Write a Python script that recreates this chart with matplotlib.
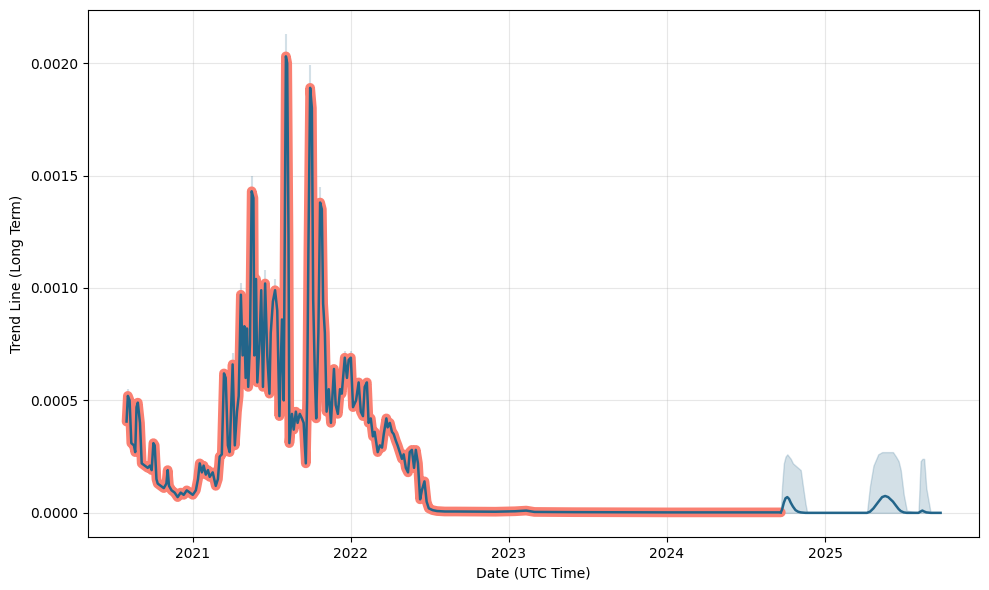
import matplotlib
matplotlib.use("Agg")
import matplotlib.pyplot as plt
import matplotlib.dates as mdates
import pandas as pd

# ---- historical trend line ----
hist_dates = [
    "2020-08-01", "2020-08-04", "2020-08-08", "2020-08-12", "2020-08-18", "2020-08-21",
    "2020-08-24", "2020-08-27", "2020-09-01", "2020-09-05", "2020-09-12", "2020-09-19",
    "2020-09-24", "2020-09-28", "2020-10-02", "2020-10-05", "2020-10-09", "2020-10-12",
    "2020-10-19", "2020-10-26", "2020-11-01", "2020-11-04", "2020-11-07", "2020-11-13",
    "2020-11-20", "2020-11-27", "2020-12-04", "2020-12-11", "2020-12-18", "2020-12-25",
    "2021-01-01", "2021-01-08", "2021-01-13", "2021-01-17", "2021-01-22", "2021-01-26",
    "2021-01-31", "2021-02-05", "2021-02-09", "2021-02-16", "2021-02-23", "2021-02-28",
    "2021-03-04", "2021-03-09", "2021-03-14", "2021-03-18", "2021-03-23", "2021-03-27",
    "2021-04-03", "2021-04-08", "2021-04-13", "2021-04-17", "2021-04-22", "2021-04-26",
    "2021-04-30", "2021-05-03", "2021-05-06", "2021-05-09", "2021-05-13", "2021-05-17",
    "2021-05-21", "2021-05-23", "2021-05-27", "2021-05-30", "2021-06-04", "2021-06-08",
    "2021-06-12", "2021-06-17", "2021-06-22", "2021-06-27", "2021-06-30", "2021-07-05",
    "2021-07-10", "2021-07-15", "2021-07-20", "2021-07-26", "2021-07-30", "2021-08-04",
    "2021-08-07", "2021-08-10", "2021-08-12", "2021-08-18", "2021-08-22", "2021-08-27",
    "2021-08-31", "2021-09-05", "2021-09-10", "2021-09-14", "2021-09-19", "2021-09-22",
    "2021-09-25", "2021-09-29", "2021-10-03", "2021-10-06", "2021-10-10", "2021-10-13",
    "2021-10-18", "2021-10-22", "2021-10-26", "2021-10-29", "2021-11-02", "2021-11-06",
    "2021-11-11", "2021-11-16", "2021-11-23", "2021-11-27", "2021-12-02", "2021-12-07",
    "2021-12-11", "2021-12-18", "2021-12-23", "2021-12-27", "2022-01-01", "2022-01-06",
    "2022-01-13", "2022-01-19", "2022-01-24", "2022-01-29", "2022-02-02", "2022-02-07",
    "2022-02-11", "2022-02-16", "2022-02-21", "2022-02-25", "2022-03-04", "2022-03-09",
    "2022-03-14", "2022-03-18", "2022-03-24", "2022-03-27", "2022-04-01", "2022-04-06",
    "2022-04-10", "2022-04-15", "2022-04-19", "2022-04-24", "2022-04-29", "2022-05-03",
    "2022-05-08", "2022-05-13", "2022-05-17", "2022-05-22", "2022-05-27", "2022-05-31",
    "2022-06-05", "2022-06-10", "2022-06-14", "2022-06-20", "2022-06-25", "2022-06-30",
    "2022-07-09", "2022-07-19", "2022-08-06", "2022-09-01", "2022-12-01", "2023-01-15",
    "2023-02-10", "2023-03-01", "2023-06-01", "2024-01-01", "2024-09-20",
]
hist_values = [
    0.000406, 0.00052, 0.00050, 0.00031, 0.00030, 0.00027,
    0.00047, 0.00049, 0.00040, 0.00022, 0.00021, 0.00020,
    0.00021, 0.00019, 0.00031, 0.00030, 0.00015, 0.00013,
    0.00012, 0.00011, 0.00013, 0.00019, 0.00012, 0.00010,
    0.00009, 0.00007, 0.00009, 0.00008, 0.00010, 0.00009,
    0.00008, 0.00010, 0.00015, 0.00022, 0.00018, 0.00021,
    0.00017, 0.00019, 0.00016, 0.00018, 0.00012, 0.00015,
    0.00025, 0.00026, 0.00062, 0.00060, 0.00030, 0.00027,
    0.00066, 0.00030, 0.00045, 0.00052, 0.00097, 0.00070,
    0.00083, 0.00060, 0.00082, 0.00056, 0.00075, 0.00143,
    0.00140, 0.00070, 0.00104, 0.00058, 0.00075, 0.00099,
    0.00056, 0.00102, 0.00070, 0.00053, 0.00080, 0.00094,
    0.00099, 0.00090, 0.00043, 0.00086, 0.00050, 0.00203,
    0.00200, 0.00123, 0.00031, 0.00044, 0.00037, 0.00045,
    0.00040, 0.00044, 0.00042, 0.00040, 0.00022, 0.00050,
    0.00117, 0.00189, 0.00180, 0.00095, 0.00060, 0.00042,
    0.00080, 0.00138, 0.00135, 0.00093, 0.00080, 0.00045,
    0.00055, 0.00040, 0.00064, 0.00048, 0.00044, 0.00055,
    0.00053, 0.00069, 0.00060, 0.00068, 0.00069, 0.00047,
    0.00050, 0.00058, 0.00045, 0.00043, 0.00056, 0.00058,
    0.00040, 0.00042, 0.00034, 0.00036, 0.00027, 0.00030,
    0.00029, 0.00035, 0.00042, 0.00038, 0.00040, 0.00036,
    0.00035, 0.00032, 0.00030, 0.00027, 0.00024, 0.00026,
    0.00020, 0.00018, 0.00027, 0.00028, 0.00020, 0.00028,
    0.00022, 0.00006, 0.00010, 0.00014, 0.00005, 0.00002,
    0.000012, 0.000008, 0.000006, 0.000006, 0.000005, 0.000007,
    0.000010, 0.000004, 0.000003, 0.000002, 0.000002,
]

# ---- confidence band tips visible above historical peaks ----
band_peak_dates = ["2020-08-04", "2021-04-03", "2021-04-22", "2021-05-17", "2021-06-17",
                   "2021-07-10", "2021-08-04", "2021-09-29", "2021-10-22", "2021-12-18",
                   "2022-01-01"]
band_peak_bases = [0.00050, 0.00064, 0.00095, 0.00140, 0.00100,
                   0.00097, 0.00200, 0.00186, 0.00135, 0.00067,
                   0.00067]
band_peak_tops = [0.00055, 0.00071, 0.00102, 0.00150, 0.00108,
                  0.00104, 0.00213, 0.00199, 0.00145, 0.00072,
                  0.00072]

# ---- forecast trend line and its band ----
fc_dates = [
    "2024-09-20", "2024-09-23", "2024-09-27", "2024-10-01", "2024-10-05", "2024-10-09",
    "2024-10-13", "2024-10-18", "2024-10-24", "2024-10-30", "2024-11-05", "2024-11-10",
    "2024-11-16", "2024-11-20",
    "2025-04-07", "2025-04-14", "2025-04-22", "2025-05-03", "2025-05-12", "2025-05-19",
    "2025-05-26", "2025-06-06", "2025-06-13", "2025-06-19", "2025-06-24", "2025-07-01",
    "2025-07-08",
    "2025-08-04", "2025-08-09", "2025-08-13", "2025-08-17", "2025-08-22", "2025-09-01",
    "2025-09-24",
]
fc_mean = [
    0.000002, 0.000015, 0.000045, 0.000065, 0.000070, 0.000062,
    0.000045, 0.000028, 0.000012, 0.000005, 0.000002, 0.000001,
    0.0, 0.0,
    0.0, 0.000005, 0.000020, 0.000048, 0.000070, 0.000075,
    0.000070, 0.000050, 0.000032, 0.000017, 0.000008, 0.000002,
    0.0,
    0.0, 0.000006, 0.000010, 0.000006, 0.000002, 0.0,
    0.0,
]
fc_upper = [
    0.000002, 0.00012, 0.00022, 0.00025, 0.00026, 0.00025,
    0.00024, 0.00022, 0.00021, 0.00020, 0.00019, 0.00012,
    0.00004, 0.0,
    0.0, 0.00012, 0.00021, 0.00026, 0.00027, 0.00027,
    0.00027, 0.00027, 0.00025, 0.00023, 0.00019, 0.00008,
    0.00001,
    0.0, 0.00023, 0.00024, 0.00024, 0.00011, 0.0,
    0.0,
]
fc_lower = [0.0] * len(fc_dates)

BLUE = "#23658a"
ORANGE = "salmon"

hd = pd.to_datetime(hist_dates)
fd = pd.to_datetime(fc_dates)
bd = pd.to_datetime(band_peak_dates)

fig, ax = plt.subplots(figsize=(9.89, 5.9), dpi=100)

ax.fill_between(fd, fc_lower, fc_upper, color=BLUE, alpha=0.2, zorder=1)
ax.vlines(bd, band_peak_bases, band_peak_tops, color=BLUE, alpha=0.2, lw=1.5, zorder=1)

ax.plot(hd, hist_values, color=ORANGE, lw=7, solid_capstyle="round",
        solid_joinstyle="round", zorder=2)
ax.plot(hd, hist_values, color=BLUE, lw=1.8, zorder=3)
ax.plot(fd, fc_mean, color=BLUE, lw=1.8, zorder=3)

ax.set_ylim(-0.000107, 0.002236)
ax.set_xlim(pd.Timestamp("2020-05-04"), pd.Timestamp("2025-12-22"))
ax.yaxis.set_major_formatter(matplotlib.ticker.FormatStrFormatter("%.4f"))
ax.set_yticks([0.0, 0.0005, 0.0010, 0.0015, 0.0020])
ax.xaxis.set_major_locator(mdates.YearLocator())
ax.xaxis.set_major_formatter(mdates.DateFormatter("%Y"))
ax.grid(True, alpha=0.3)
ax.set_axisbelow(True)
ax.set_xlabel("Date (UTC Time)")
ax.set_ylabel("Trend Line (Long Term)")

fig.subplots_adjust(left=0.089, right=0.990, top=0.983, bottom=0.090)
fig.savefig("out.png", dpi=100)
